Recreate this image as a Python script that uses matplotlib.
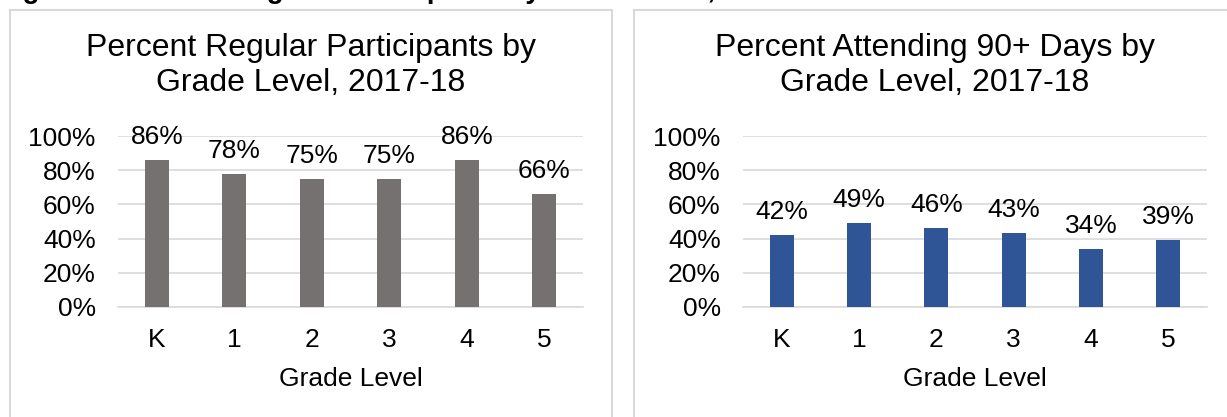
import matplotlib.pyplot as plt
from matplotlib.patches import Rectangle

plt.rcParams['font.family'] = ['Liberation Sans', 'DejaVu Sans']

# data
grades = ['K', '1', '2', '3', '4', '5']
regular_pct = [86, 78, 75, 75, 86, 66]
attend90_pct = [42, 49, 46, 43, 34, 39]
yticks = [0, 20, 40, 60, 80, 100]

caption = 'Figure 4. Percent Regular Participants by Grade Level, 2017-18'
titles = [('Percent Regular Participants by', 'Grade Level, 2017-18'),
          ('Percent Attending 90+ Days by', 'Grade Level, 2017-18')]
colors = ['#767171', '#2F5597']

W, H = 1227, 417
fig = plt.figure(figsize=(W / 100, H / 100), dpi=100)

# caption cut off at the top edge of the picture (only its bottom shows)
fig.text(-0.002, 1 + 2.5 / H, caption, fontsize=20, fontweight='bold',
         ha='left', va='baseline', color='black')

# panel borders
for x0, x1 in [(10, 612), (634, 1236)]:
    fig.patches.append(Rectangle((x0 / W, -0.05), (x1 - x0) / W, (H - 10) / H + 0.05,
                                 transform=fig.transFigure, fill=False,
                                 edgecolor='#d9d9d9', linewidth=1.5))

ax_lefts = [118, 743]
ax_widths = [465, 464]
title_x = [311, 935]
series = [regular_pct, attend90_pct]

for i in range(2):
    ax = fig.add_axes([ax_lefts[i] / W, (H - 307) / H, ax_widths[i] / W, 171 / H])
    bars = ax.bar(range(len(grades)), series[i], width=0.31, color=colors[i], zorder=3)
    for b, v in zip(bars, series[i]):
        ax.annotate(f'{v}%', (b.get_x() + b.get_width() / 2, v),
                    xytext=(0, 8), textcoords='offset points',
                    ha='center', va='bottom', fontsize=19)
    ax.set_xlim(-0.5, len(grades) - 0.5)
    ax.set_ylim(0, 100)
    ax.set_yticks(yticks)
    ax.set_yticklabels([f'{t}%' for t in yticks])
    ax.set_xticks(range(len(grades)))
    ax.set_xticklabels(grades)
    ax.tick_params(axis='both', length=0, labelsize=19)
    ax.tick_params(axis='x', pad=15)
    ax.tick_params(axis='y', pad=16)
    ax.grid(axis='y', color='#d9d9d9', linewidth=1.2, zorder=0)
    for s in ['top', 'right', 'left']:
        ax.spines[s].set_visible(False)
    ax.spines['bottom'].set_color('#d9d9d9')
    ax.spines['bottom'].set_linewidth(1.2)
    ax.set_xlabel('Grade Level', fontsize=19, labelpad=11)
    for line, y in zip(titles[i], [48, 83]):
        fig.text(title_x[i] / W, 1 - y / H, line, fontsize=23,
                 ha='center', va='center')

fig.savefig('out.png', dpi=100)
